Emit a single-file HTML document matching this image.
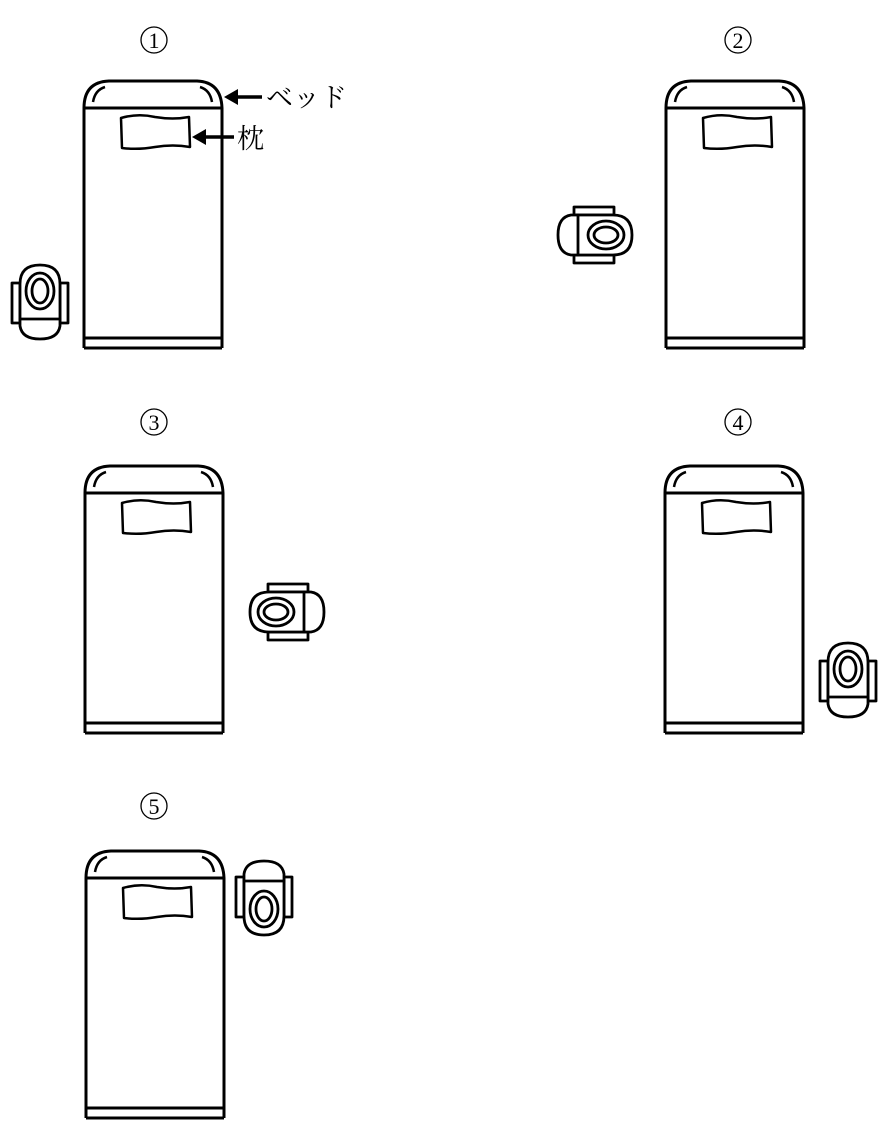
<!DOCTYPE html>
<html><head><meta charset="utf-8"><style>
html,body{margin:0;padding:0;background:#fff;}
svg{display:block}
text{font-family:"Liberation Serif","Noto Serif CJK SC","Noto Sans CJK JP",serif;fill:#000}
</style></head><body>
<svg width="888" height="1136" viewBox="0 0 888 1136" xmlns="http://www.w3.org/2000/svg">
<defs>
<g id="bed" fill="none" stroke="#000" stroke-width="3" stroke-linejoin="round">
  <path d="M1 28 Q1 2 26 1 L114 1 Q138 2 139 28"/>
  <path d="M10 22 Q12 10 22 7" stroke-width="2.5"/>
  <path d="M129 22 Q127 10 117 7" stroke-width="2.5"/>
  <path d="M0 28 L140 28"/>
  <path d="M1 28 L1 268 M139 28 L139 268"/>
  <path d="M1 258 L139 258 M1 268 L139 268"/>
  <path d="M38 38 Q55 33 72 37 Q90 40 106 37 L107 67 Q90 64 72 67 Q55 70 39 68 Z" stroke-width="2.5"/>
</g>
<g id="toilet" fill="#fff" stroke="#000" stroke-width="2.8" stroke-linejoin="round">
  <rect x="-28" y="-19" width="8" height="40"/>
  <rect x="20" y="-19" width="8" height="40"/>
  <path d="M-20 -18 Q-20 -37 0 -37 Q20 -37 20 -18 L20 18 L-20 18 Z"/>
  <ellipse cx="0" cy="-11" rx="14" ry="18"/>
  <ellipse cx="0" cy="-11" rx="8" ry="12"/>
  <path d="M-20 17 L20 17 L20 24 Q18 37 0 37 Q-18 37 -20 24 Z"/>
</g>
</defs>

<g text-anchor="middle" font-size="22">
  <circle cx="154" cy="40" r="13" fill="none" stroke="#000" stroke-width="1.3"/><text x="154" y="48">1</text>
  <circle cx="738" cy="40" r="13" fill="none" stroke="#000" stroke-width="1.3"/><text x="738" y="48">2</text>
  <circle cx="154" cy="422" r="13" fill="none" stroke="#000" stroke-width="1.3"/><text x="154" y="430">3</text>
  <circle cx="738" cy="422" r="13" fill="none" stroke="#000" stroke-width="1.3"/><text x="738" y="430">4</text>
  <circle cx="154" cy="806" r="13" fill="none" stroke="#000" stroke-width="1.3"/><text x="154" y="814">5</text>
</g>

<use href="#bed" x="83" y="80"/>
<use href="#bed" x="665" y="80"/>
<use href="#bed" x="84" y="465"/>
<use href="#bed" x="664" y="465"/>
<use href="#bed" x="85" y="850"/>

<path d="M237 97 L262 97" stroke="#000" stroke-width="3.5"/>
<path d="M224 97 L238 89 L238 105 Z" fill="#000"/>
<text x="266" y="107" font-size="27">ベッド</text>
<path d="M205 137 L234 137" stroke="#000" stroke-width="3.5"/>
<path d="M192 137 L206 129 L206 145 Z" fill="#000"/>
<text x="237" y="148" font-size="27">枕</text>

<use href="#toilet" transform="translate(40,302)"/>
<use href="#toilet" transform="translate(595,235) rotate(90)"/>
<use href="#toilet" transform="translate(287,612) rotate(-90)"/>
<use href="#toilet" transform="translate(848,680)"/>
<use href="#toilet" transform="translate(264,898) rotate(180)"/>
</svg>
</body></html>
